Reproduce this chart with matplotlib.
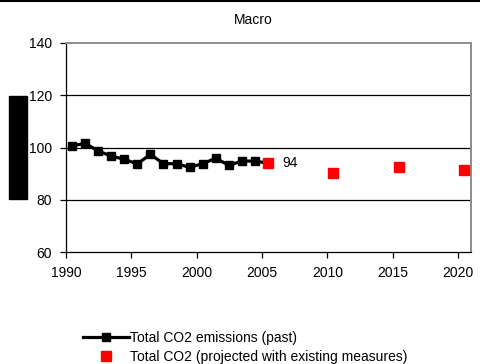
import matplotlib
matplotlib.use("Agg")
import matplotlib.pyplot as plt
from matplotlib.patches import Rectangle
from matplotlib.lines import Line2D

plt.rcParams['font.family'] = ['Liberation Sans', 'DejaVu Sans']

# Historical emissions index (1990 = ~100)
past_years = [1990, 1991, 1992, 1993, 1994, 1995, 1996, 1997, 1998, 1999,
              2000, 2001, 2002, 2003, 2004, 2005]
past_values = [100.6, 101.6, 98.7, 96.7, 95.5, 93.7, 97.4, 93.8, 93.8, 92.4,
               93.8, 95.9, 93.2, 94.8, 94.8, 94]

# Projections with existing measures
proj_years = [2005, 2010, 2015, 2020]
proj_values = [94, 90.1, 92.4, 91.3]

tick_years = [1990, 1995, 2000, 2005, 2010, 2015, 2020]
y_ticks = [60, 80, 100, 120, 140]

W, H = 481, 364
fig = plt.figure(figsize=(W / 100, H / 100), dpi=100)
ax = fig.add_axes([66 / W, 1 - 252 / H, (471 - 66) / W, (252 - 43) / H])

# categories sit in the middle of each year slot
offset = 0.46
ax.set_xlim(1990 - offset, 2021 - offset)
ax.set_ylim(60, 140)

for v in [80, 100, 120]:
    ax.axhline(v, color='black', lw=0.9, zorder=1)

ax.plot(past_years, past_values, color='black', lw=2.3, marker='s',
        markersize=6, markerfacecolor='black', markeredgecolor='black',
        zorder=3, clip_on=False)
ax.plot(proj_years, proj_values, ls='none', marker='s', markersize=6.5,
        color='#ff0000', markeredgecolor='#ff0000', zorder=4, clip_on=False)

ax.annotate(f"{proj_values[0]:g}", xy=(proj_years[0], proj_values[0]),
            xytext=(10.5, 0), textcoords='offset points', ha='left',
            va='center', fontsize=10)

ax.set_xticks([y - offset for y in tick_years])
ax.set_xticklabels([str(y) for y in tick_years])
ax.set_yticks(y_ticks)
ax.set_yticklabels([str(v) for v in y_ticks])
ax.tick_params(axis='both', labelsize=10, direction='out', length=4,
               width=0.9, color='black')
ax.tick_params(axis='x', pad=6)
ax.tick_params(axis='y', pad=6)

for side in ['top', 'right']:
    ax.spines[side].set_color('#8c8c8c')
    ax.spines[side].set_linewidth(1.4)
for side in ['left', 'bottom']:
    ax.spines[side].set_color('black')
    ax.spines[side].set_linewidth(0.9)

fig.text(253 / W, 1 - 20 / H, "Macro", ha='center', va='center', fontsize=10)

# black bar on the left and rule along the top
fig.patches.append(Rectangle((9 / W, 1 - 199 / H), 18 / W, 103 / H,
                             transform=fig.transFigure, color='black'))
fig.add_artist(Line2D([0, 1], [1 - 1 / H, 1 - 1 / H], transform=fig.transFigure,
                      color='black', lw=1.5))

# legend
handles = [
    Line2D([], [], color='black', lw=2.3, marker='s', markersize=6),
    Line2D([], [], ls='none', marker='s', markersize=6.5, color='#ff0000'),
]
labels = ["Total CO2 emissions (past)",
          "Total CO2 (projected with existing measures)"]
fig.legend(handles, labels, loc='upper left', bbox_to_anchor=(76 / W, 1 - 324 / H),
           frameon=False, fontsize=10, handlelength=3.3, handletextpad=0.1,
           labelspacing=0.35, borderpad=0)

fig.savefig("out.png", dpi=100)
